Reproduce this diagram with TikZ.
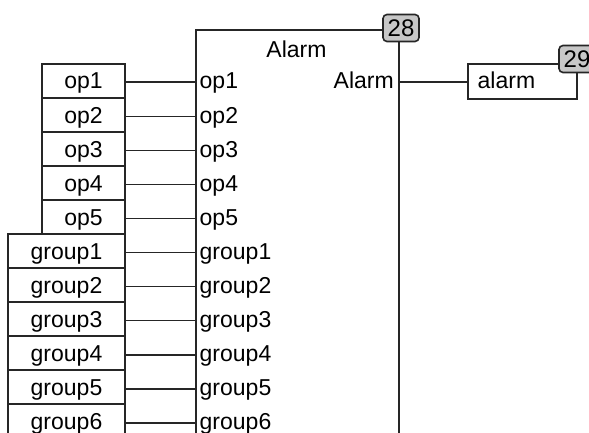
\documentclass[tikz,border=0pt]{standalone}
\usepackage{fontspec}
\setmainfont{Liberation Sans}
\begin{document}
\begin{tikzpicture}[x=1pt,y=-1pt,
  wire/.style={line width=1.6pt, draw=black!85},
  vbox/.style={wire, rectangle, inner sep=0, fill=white},
  lbl/.style={inner sep=0, font=\fontsize{23}{26}\selectfont, text=black},
  badge/.style={wire, rounded corners=4pt, fill=black!22, minimum width=36pt, minimum height=27pt, inner sep=0, font=\fontsize{24}{26}\selectfont}]
\useasboundingbox (0,0) rectangle (589,433);
\clip (0,0) rectangle (589,433);
% main block
\node[vbox, anchor=north west, minimum width=203pt, minimum height=450pt] (blk) at (195,29.5) {};
\node[badge] (b28) at (401,28) {28};
\node[lbl, anchor=base] (title) at (296.5,57.5) {Alarm};
% inputs
\foreach \t [count=\i from 0] in {op1,op2,op3,op4,op5} {
  \pgfmathsetmacro\yl{82.3+34.05*\i}
  \coordinate (pin\t) at (195,\yl);
  \node[vbox, minimum width=83pt, minimum height=34.1pt] (box\t) at (83.5,\yl-1.5) {};
  \node[lbl, anchor=base] (txt\t) at (83.5,\yl+6.7) {\t};
  \node[lbl, anchor=base west] (in\t) at (199.5,\yl+6.7) {\t};
  \draw[wire] (box\t.east |- pin\t) -- (pin\t);
}
\foreach \t [count=\i from 5] in {group1,group2,group3,group4,group5,group6} {
  \pgfmathsetmacro\yl{82.3+34.05*\i}
  \coordinate (pin\t) at (195,\yl);
  \node[vbox, minimum width=117pt, minimum height=34.1pt] (box\t) at (66.5,\yl-1.5) {};
  \node[lbl, anchor=base] (txt\t) at (66.5,\yl+6.7) {\t};
  \node[lbl, anchor=base west] (in\t) at (199.5,\yl+6.7) {\t};
  \draw[wire] (box\t.east |- pin\t) -- (pin\t);
}
% output
\coordinate (outpin) at (398,82.3);
\node[lbl, anchor=base east] (outA) at (394,89) {Alarm};
\node[vbox, anchor=north west, minimum width=109pt, minimum height=35pt] (abox) at (467,63) {};
\node[lbl, anchor=base west] (atxt) at (477.5,89) {alarm};
\node[badge] (b29) at (577,59) {29};
\draw[wire] (outpin) -- (abox.west |- outpin);
\end{tikzpicture}
\end{document}
